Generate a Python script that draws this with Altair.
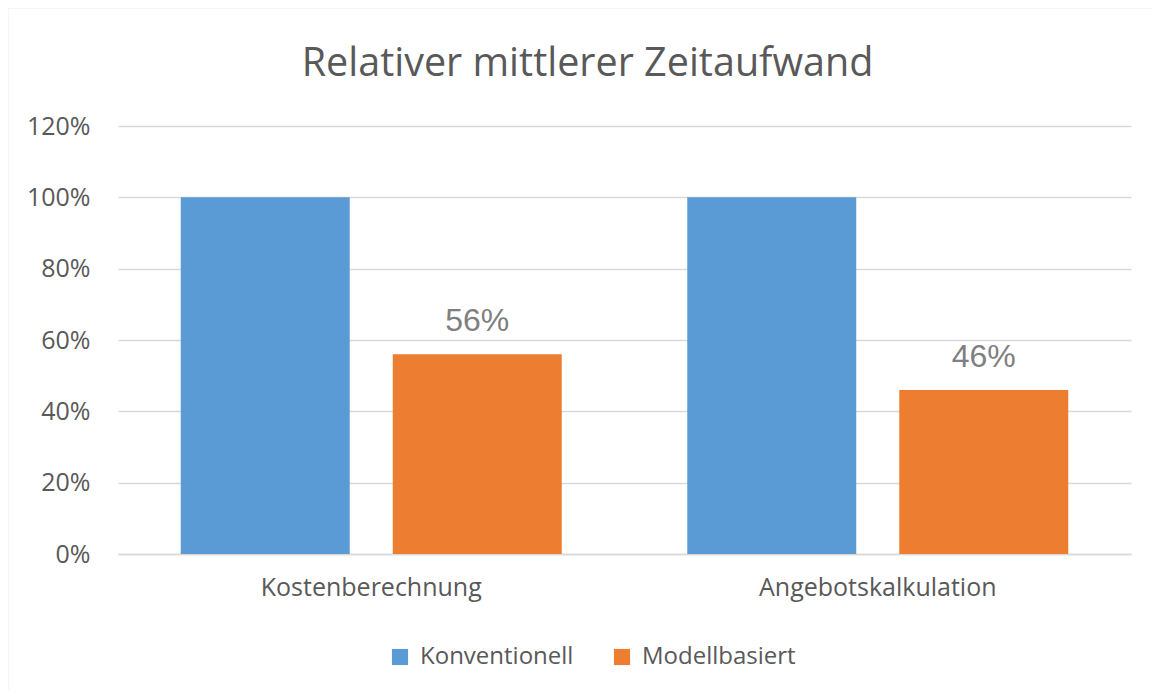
import altair as alt
import pandas as pd

categories = ["Kostenberechnung", "Angebotskalkulation"]
series = ["Konventionell", "Modellbasiert"]
konventionell = [1.00, 1.00]
modellbasiert = [0.56, 0.46]
y_ticks = [0, 0.2, 0.4, 0.6, 0.8, 1.0, 1.2]
colors = ["#5B9BD5", "#ED7D31"]

rows = []
for i, c in enumerate(categories):
    rows.append({"Kategorie": c, "Serie": series[0], "Wert": konventionell[i]})
    rows.append({"Kategorie": c, "Serie": series[1], "Wert": modellbasiert[i]})
df = pd.DataFrame(rows)

FONT = "Open Sans"
GRAY = "#595959"
W, H = 1013, 428

x_enc = alt.X("Kategorie:N", sort=categories,
              scale=alt.Scale(paddingInner=0, paddingOuter=0),
              axis=alt.Axis(title=None, labelAngle=0, ticks=False,
                            domainColor="#D9D9D9", domainWidth=1.5,
                            labelFont=FONT, labelFontSize=25, labelColor=GRAY,
                            labelPadding=21, labelLimit=500))
xo_enc = alt.XOffset("Serie:N", sort=series,
                     scale=alt.Scale(paddingInner=0.203, paddingOuter=0.296))
y_enc = alt.Y("Wert:Q", scale=alt.Scale(domain=[0, 1.2]),
              axis=alt.Axis(title=None, format=".0%", values=y_ticks,
                            domain=False, ticks=False, gridColor="#D9D9D9",
                            gridWidth=1.5, labelFont=FONT, labelFontSize=25,
                            labelColor=GRAY, labelPadding=28))

base = alt.Chart(df)

bars = base.mark_bar().encode(
    x=x_enc, xOffset=xo_enc, y=y_enc,
    color=alt.Color("Serie:N", sort=series,
                    scale=alt.Scale(domain=series, range=colors),
                    legend=alt.Legend(title=None, orient="none",
                                      direction="horizontal",
                                      legendX=270, legendY=519,
                                      symbolType="square", symbolSize=260,
                                      symbolStrokeWidth=0,
                                      labelFont=FONT, labelFontSize=24,
                                      labelColor=GRAY, labelOffset=8,
                                      columnPadding=36)),
)

labels = base.transform_filter(
    alt.datum.Serie == "Modellbasiert"
).mark_text(font="Liberation Sans", fontSize=32, color="#7F7F7F",
            baseline="bottom", dy=-16).encode(
    x=x_enc, xOffset=xo_enc, y=y_enc,
    text=alt.Text("Wert:Q", format=".0%"),
)

border = alt.Chart(pd.DataFrame({"a": [0]})).mark_rect(
    fill="transparent", stroke="#D9D9D9", strokeWidth=2.5
).encode(x=alt.value(-111), x2=alt.value(1200), y=alt.value(-119), y2=alt.value(700))

chart = alt.layer(border, bars, labels).properties(
    width=W, height=H,
    title=alt.TitleParams("Relativer mittlerer Zeitaufwand", font=FONT,
                          fontSize=39.5, fontWeight="normal", color=GRAY,
                          anchor="middle", baseline="alphabetic",
                          dx=-37, offset=-110),
    autosize=alt.AutoSizeParams(type="none"),
    padding={"left": 110, "top": 118, "right": 21, "bottom": 136},
).configure_view(strokeWidth=0)

chart.save("out.html", embed_options={"renderer": "svg", "actions": False})
